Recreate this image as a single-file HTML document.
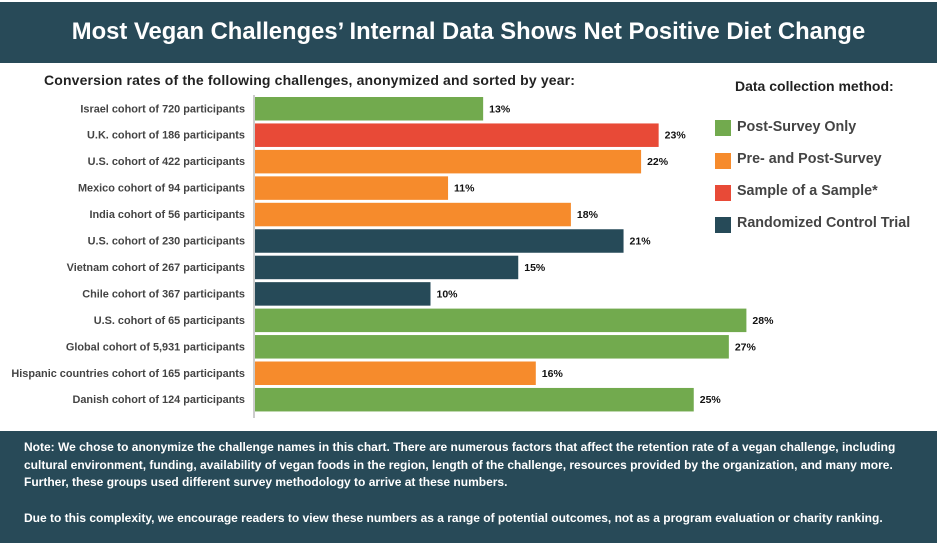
<!DOCTYPE html>
<html><head><meta charset="utf-8"><style>
body{margin:0;width:937px;height:547px;overflow:hidden;background:#fff;font-family:"Liberation Sans",sans-serif;position:relative}
#hdr{position:absolute;left:0;top:2px;width:937px;height:61px;background:#284a58;color:#fff;font-weight:bold;font-size:23.8px;text-align:center;line-height:60px;white-space:nowrap}
#sub{position:absolute;left:44px;top:72px;font-size:14px;letter-spacing:0.15px;font-weight:bold;color:#222;white-space:nowrap}
#ftr{position:absolute;left:0;top:431px;width:937px;height:112px;background:#284a58;color:#fff;font-weight:bold;font-size:12px;line-height:17.7px;padding:8px 0 0 24px;box-sizing:border-box;white-space:nowrap}
.lg{position:absolute;left:715px;width:16px;height:16px}
.lt{position:absolute;left:737px;font-size:14.3px;font-weight:bold;color:#444;line-height:16px}
</style></head><body>
<div id="hdr">Most Vegan Challenges’ Internal Data Shows Net Positive Diet Change</div>
<div id="sub">Conversion rates of the following challenges, anonymized and sorted by year:</div>
<div style="position:absolute;left:735px;top:78px;font-size:14px;font-weight:bold;color:#222">Data collection method:</div>
<div class="lg" style="top:120px;background:#72aa4e"></div><div class="lt" style="top:119px">Post-Survey Only</div>
<div class="lg" style="top:153px;background:#f68b2c"></div><div class="lt" style="top:151px">Pre- and Post-Survey</div>
<div class="lg" style="top:185px;background:#e84a37"></div><div class="lt" style="top:183px">Sample of a Sample*</div>
<div class="lg" style="top:217px;background:#264a58"></div><div class="lt" style="top:215px">Randomized Control Trial</div>
<svg id="chart" width="937" height="547" style="position:absolute;left:0;top:0"></svg>
<div id="ftr">Note: We chose to anonymize the challenge names in this chart. There are numerous factors that affect the retention rate of a vegan challenge, including<br>cultural environment, funding, availability of vegan foods in the region, length of the challenge, resources provided by the organization, and many more.<br>Further, these groups used different survey methodology to arrive at these numbers.<br><br>Due to this complexity, we encourage readers to view these numbers as a range of potential outcomes, not as a program evaluation or charity ranking.</div>
<script>
const categories=["Israel cohort of 720 participants","U.K. cohort of 186 participants","U.S. cohort of 422 participants","Mexico cohort of 94 participants","India cohort of 56 participants","U.S. cohort of 230 participants","Vietnam cohort of 267 participants","Chile cohort of 367 participants","U.S. cohort of 65 participants","Global cohort of 5,931 participants","Hispanic countries cohort of 165 participants","Danish cohort of 124 participants"];
const values=[13,23,22,11,18,21,15,10,28,27,16,25];
const methods=["post","sample","prepost","prepost","prepost","rct","rct","rct","post","post","prepost","post"];
const colors={post:"#72aa4e",sample:"#e84a37",prepost:"#f68b2c",rct:"#264a58"};
const svg=document.getElementById('chart');const NS="http://www.w3.org/2000/svg";
const x0=255,pxPer=17.55,y0=97,pitch=26.45,bh=23.5;
const xs=v=>x0+v*pxPer, ys=i=>y0+i*pitch;
function mk(t,a){const e=document.createElementNS(NS,t);for(const k in a)e.setAttribute(k,a[k]);svg.appendChild(e);return e;}
const ax=mk('line',{x1:254,x2:254,y1:95,y2:418,stroke:'#ccc','stroke-width':2});


values.forEach((v,i)=>{
 const r=mk('rect',{x:x0,y:ys(i),width:xs(v)-x0,height:bh,fill:colors[methods[i]]});
 
 
 const l=mk('text',{x:245,y:ys(i)+bh/2+3.5,'text-anchor':'end','font-size':'10.9','font-weight':'bold',fill:'#444','font-family':'Liberation Sans'});
 l.textContent=categories[i];
 
 
 const t=mk('text',{x:xs(v)+6,y:ys(i)+bh/2+3.5,'font-size':'10.5','font-weight':'bold',fill:'#111','font-family':'Liberation Sans'});
 t.textContent=v+'%';
 
 
});
</script>
</body></html>
